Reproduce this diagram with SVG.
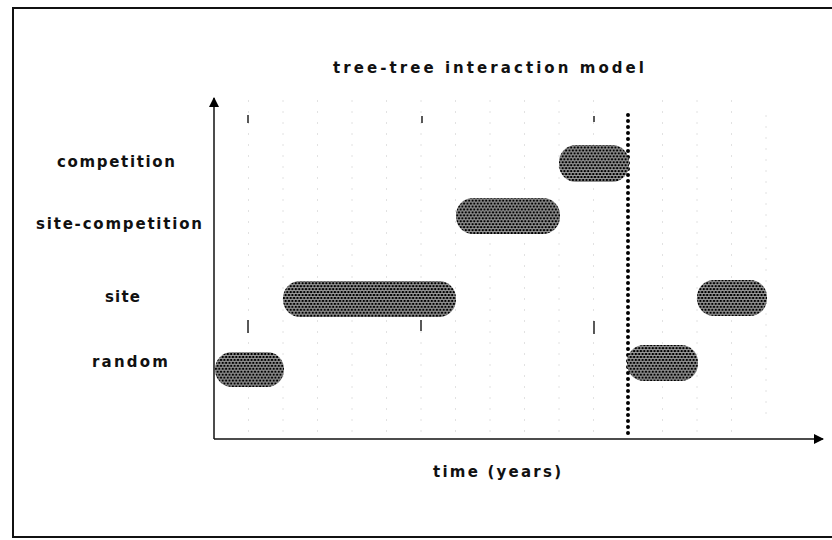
<svg xmlns="http://www.w3.org/2000/svg" width="832" height="540" viewBox="0 0 832 540">
<defs>
<pattern id="dots" width="3.4" height="5.9" patternUnits="userSpaceOnUse">
<rect width="3.4" height="5.9" fill="#fff"/>
<circle cx="0" cy="0" r="1.5" fill="#000"/>
<circle cx="3.4" cy="0" r="1.5" fill="#000"/>
<circle cx="1.7" cy="2.95" r="1.5" fill="#000"/>
<circle cx="0" cy="5.9" r="1.5" fill="#000"/>
<circle cx="3.4" cy="5.9" r="1.5" fill="#000"/>
</pattern>
<marker id="arr" viewBox="0 0 10 10" refX="9" refY="5" markerWidth="10" markerHeight="10" markerUnits="userSpaceOnUse" orient="auto">
<path d="M0,0 L10,5 L0,10 Z" fill="#000"/>
</marker>
</defs>
<style>
.lbl{font-family:"DejaVu Sans","Liberation Sans",sans-serif;font-size:15px;font-weight:bold;fill:#111}
.pill{fill:url(#dots)}
.grid{stroke:#e2e2e2;stroke-width:1;stroke-dasharray:2 9}
.tick{stroke:#222;stroke-width:1.5}
</style>
<rect width="832" height="540" fill="#fff"/>
<path d="M840,8 L13,8 L13,537 L840,537" fill="none" stroke="#111" stroke-width="2"/>
<g id="grid">
<line class="grid" x1="248.5" y1="100" x2="248.5" y2="438"/>
<line class="grid" x1="283" y1="100" x2="283" y2="438"/>
<line class="grid" x1="317.5" y1="100" x2="317.5" y2="438"/>
<line class="grid" x1="352" y1="100" x2="352" y2="438"/>
<line class="grid" x1="386.5" y1="100" x2="386.5" y2="438"/>
<line class="grid" x1="421" y1="100" x2="421" y2="438"/>
<line class="grid" x1="455.5" y1="100" x2="455.5" y2="438"/>
<line class="grid" x1="490" y1="100" x2="490" y2="438"/>
<line class="grid" x1="524.5" y1="100" x2="524.5" y2="438"/>
<line class="grid" x1="559" y1="100" x2="559" y2="438"/>
<line class="grid" x1="593.5" y1="100" x2="593.5" y2="438"/>
<line class="grid" x1="662.5" y1="100" x2="662.5" y2="438"/>
<line class="grid" x1="697" y1="100" x2="697" y2="438"/>
<line class="grid" x1="731.5" y1="100" x2="731.5" y2="438"/>
<line class="grid" x1="766" y1="115" x2="766" y2="415"/>
<line class="tick" x1="248" y1="115" x2="248" y2="123"/>
<line class="tick" x1="422" y1="116" x2="422" y2="123"/>
<line class="tick" x1="594" y1="116" x2="594" y2="122"/>
<line class="tick" x1="248" y1="320" x2="248" y2="333"/>
<line class="tick" x1="421" y1="320" x2="421" y2="331"/>
<line class="tick" x1="594" y1="321" x2="594" y2="334"/>
</g>
<g id="connectors">
<line x1="214" y1="439" x2="214" y2="98" stroke="#111" stroke-width="1.5" marker-end="url(#arr)"/>
<line x1="214" y1="439" x2="823" y2="439" stroke="#111" stroke-width="1.5" marker-end="url(#arr)"/>
<line x1="628" y1="115" x2="628" y2="438" stroke="#000" stroke-width="4" stroke-linecap="round" stroke-dasharray="0 6"/>
</g>
<g id="title"><text class="lbl" x="333" y="73" textLength="311" lengthAdjust="spacing">tree-tree interaction model</text></g>
<g id="xlabel"><text class="lbl" x="433" y="477" textLength="128" lengthAdjust="spacing">time (years)</text></g>
<g id="label-competition"><text class="lbl" x="57" y="167" textLength="118" lengthAdjust="spacing">competition</text></g>
<g id="label-site-competition"><text class="lbl" x="36" y="229" textLength="166" lengthAdjust="spacing">site-competition</text></g>
<g id="label-site"><text class="lbl" x="105" y="302" textLength="35" lengthAdjust="spacing">site</text></g>
<g id="label-random"><text class="lbl" x="92" y="367" textLength="76" lengthAdjust="spacing">random</text></g>
<g id="bar-random-1"><rect class="pill" x="215" y="352" width="69" height="35" rx="17"/></g>
<g id="bar-site-1"><rect class="pill" x="283" y="281" width="173" height="36" rx="17"/></g>
<g id="bar-site-competition"><rect class="pill" x="456" y="198" width="104" height="36" rx="17"/></g>
<g id="bar-competition"><rect class="pill" x="559" y="145" width="70" height="37" rx="17"/></g>
<g id="bar-random-2"><rect class="pill" x="627" y="345" width="71" height="36" rx="17"/></g>
<g id="bar-site-2"><rect class="pill" x="697" y="280" width="70" height="36" rx="17"/></g>
</svg>
